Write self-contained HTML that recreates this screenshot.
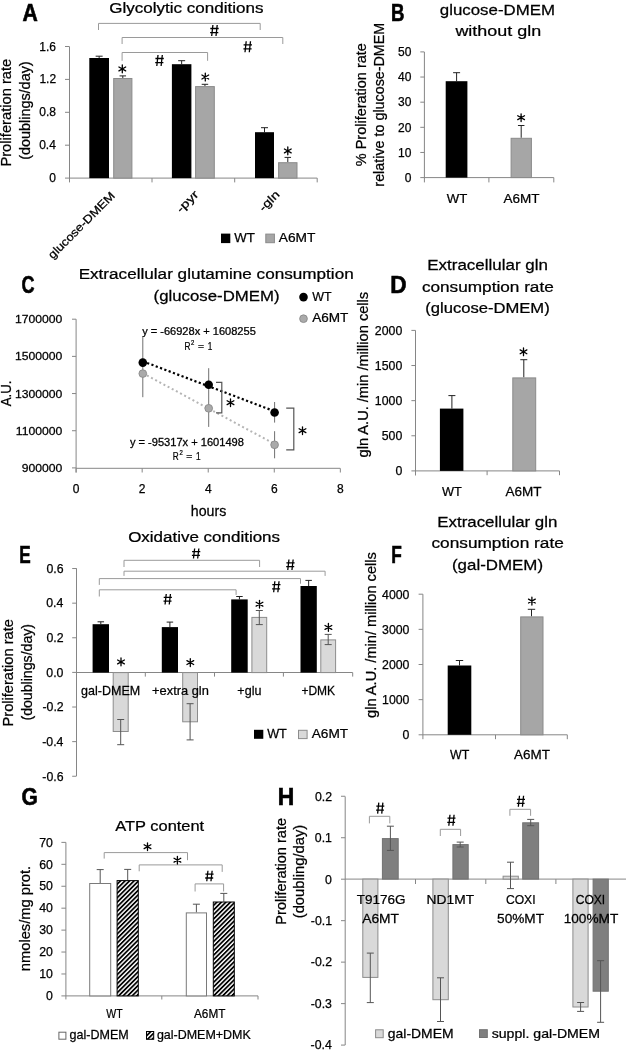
<!DOCTYPE html>
<html><head><meta charset="utf-8"><style>
html,body{margin:0;padding:0;background:#fff;width:626px;height:1050px;overflow:hidden}
svg{display:block;will-change:transform;filter:blur(0.35px)}
text{font-family:"Liberation Sans", sans-serif;stroke:#000;stroke-width:0.25px}
</style></head><body>
<svg width="626" height="1050" viewBox="0 0 626 1050" shape-rendering="auto">
<rect width="626" height="1050" fill="#fff"/>
<text x="0" y="0" font-size="23.2" font-weight="bold" transform="translate(22.47 20.70) scale(0.9135 1)" fill="#000" style="stroke-width:0.6px">A</text>
<text x="0" y="0" font-size="14.629999999999999" font-weight="normal" transform="translate(109.15 13.00) scale(1.1652 1)" fill="#000" >Glycolytic conditions</text>
<line x1="69.5" y1="46.7" x2="69.5" y2="182.4" stroke="#868686" stroke-width="1" />
<line x1="65" y1="46.5" x2="69.5" y2="46.5" stroke="#868686" stroke-width="1" />
<text x="0" y="0" font-size="12" font-weight="normal" transform="translate(39.30 50.50) scale(1.0000 1)" fill="#000">1.6</text>
<line x1="65" y1="79.39999999999999" x2="69.5" y2="79.39999999999999" stroke="#868686" stroke-width="1" />
<text x="0" y="0" font-size="12" font-weight="normal" transform="translate(39.42 83.40) scale(1.0000 1)" fill="#000">1.2</text>
<line x1="65" y1="112.3" x2="69.5" y2="112.3" stroke="#868686" stroke-width="1" />
<text x="0" y="0" font-size="12" font-weight="normal" transform="translate(39.30 116.30) scale(1.0000 1)" fill="#000">0.8</text>
<line x1="65" y1="145.2" x2="69.5" y2="145.2" stroke="#868686" stroke-width="1" />
<text x="0" y="0" font-size="12" font-weight="normal" transform="translate(39.18 149.20) scale(1.0000 1)" fill="#000">0.4</text>
<line x1="65" y1="178.1" x2="69.5" y2="178.1" stroke="#868686" stroke-width="1" />
<text x="0" y="0" font-size="12" font-weight="normal" transform="translate(49.26 182.10) scale(1.0000 1)" fill="#000">0</text>
<line x1="69.5" y1="178.1" x2="317.2" y2="178.1" stroke="#868686" stroke-width="1" />
<line x1="152" y1="178.1" x2="152" y2="182.4" stroke="#868686" stroke-width="1" />
<line x1="234.7" y1="178.1" x2="234.7" y2="182.4" stroke="#868686" stroke-width="1" />
<line x1="317.2" y1="178.1" x2="317.2" y2="182.4" stroke="#868686" stroke-width="1" />
<text x="0" y="0" font-size="14.629999999999999" font-weight="normal" transform="translate(10.90 166.58) rotate(-90) scale(1.0049 1)" fill="#000" >Proliferation rate</text>
<text x="0" y="0" font-size="14.629999999999999" font-weight="normal" transform="translate(30.10 159.86) rotate(-90) scale(0.9853 1)" fill="#000" >(doublings/day)</text>
<line x1="99.15" y1="58" x2="99.15" y2="56.2" stroke="#222" stroke-width="1" />
<line x1="95.65" y1="56.2" x2="102.65" y2="56.2" stroke="#222" stroke-width="1" />
<rect x="89.3" y="58" width="19.700000000000003" height="120.1" fill="#000" stroke="none" stroke-width="1" />
<line x1="181.65" y1="64.2" x2="181.65" y2="60.7" stroke="#222" stroke-width="1" />
<line x1="178.15" y1="60.7" x2="185.15" y2="60.7" stroke="#222" stroke-width="1" />
<rect x="171.9" y="64.2" width="19.5" height="113.89999999999999" fill="#000" stroke="none" stroke-width="1" />
<line x1="264.5" y1="132.2" x2="264.5" y2="127.7" stroke="#222" stroke-width="1" />
<line x1="261.0" y1="127.7" x2="268.0" y2="127.7" stroke="#222" stroke-width="1" />
<rect x="255" y="132.2" width="19" height="45.900000000000006" fill="#000" stroke="none" stroke-width="1" />
<line x1="122.80000000000001" y1="78" x2="122.80000000000001" y2="75.9" stroke="#222" stroke-width="1" />
<line x1="119.55000000000001" y1="75.9" x2="126.05000000000001" y2="75.9" stroke="#222" stroke-width="1" />
<rect x="113.7" y="78.5" width="18.200000000000003" height="99.6" fill="#a6a6a6" stroke="#8a8a8a" stroke-width="1" />
<line x1="204.95" y1="86.1" x2="204.95" y2="84.3" stroke="#222" stroke-width="1" />
<line x1="201.7" y1="84.3" x2="208.2" y2="84.3" stroke="#222" stroke-width="1" />
<rect x="195.6" y="86.6" width="18.700000000000017" height="91.5" fill="#a6a6a6" stroke="#8a8a8a" stroke-width="1" />
<line x1="287.8" y1="162.2" x2="287.8" y2="157.4" stroke="#222" stroke-width="1" />
<line x1="284.55" y1="157.4" x2="291.05" y2="157.4" stroke="#222" stroke-width="1" />
<rect x="278.6" y="162.7" width="18.399999999999977" height="15.400000000000006" fill="#a6a6a6" stroke="#8a8a8a" stroke-width="1" />
<path d="M122.30 72.80L122.30 65.00M118.92 70.85L125.68 66.95M125.68 70.85L118.92 66.95" stroke="#000" stroke-width="1.3" stroke-linecap="round"/>
<path d="M205.30 80.90L205.30 73.10M201.92 78.95L208.68 75.05M208.68 78.95L201.92 75.05" stroke="#000" stroke-width="1.3" stroke-linecap="round"/>
<path d="M287.80 154.80L287.80 147.00M284.42 152.85L291.18 148.95M291.18 152.85L284.42 148.95" stroke="#000" stroke-width="1.3" stroke-linecap="round"/>
<path d="M98.5 30L98.5 23.4L260.2 23.4L260.2 30" fill="none" stroke="#9a9a9a" stroke-width="1"/>
<path d="M122.1 44L122.1 37.5L282.8 37.5L282.8 44" fill="none" stroke="#9a9a9a" stroke-width="1"/>
<path d="M122.1 60.8L122.1 52.5L207.6 52.5L207.6 60.8" fill="none" stroke="#9a9a9a" stroke-width="1"/>
<path d="M212.90 25.00L211.70 36.00M217.20 25.00L216.00 36.00M210.30 28.50L218.70 28.50M210.10 32.60L218.30 32.60" stroke="#000" stroke-width="1.3" fill="none"/>
<path d="M246.20 41.30L245.00 52.30M250.50 41.30L249.30 52.30M243.60 44.80L252.00 44.80M243.40 48.90L251.60 48.90" stroke="#000" stroke-width="1.3" fill="none"/>
<path d="M158.00 55.00L156.80 66.00M162.30 55.00L161.10 66.00M155.40 58.50L163.80 58.50M155.20 62.60L163.40 62.60" stroke="#000" stroke-width="1.3" fill="none"/>
<text x="115.7" y="196.5" font-size="11.5" text-anchor="end" font-weight="normal" textLength="89" lengthAdjust="spacingAndGlyphs" transform="rotate(-45 115.7 196.5)" fill="#000">glucose-DMEM</text>
<text x="199.3" y="195.2" font-size="11.5" text-anchor="end" font-weight="normal" textLength="26" lengthAdjust="spacingAndGlyphs" transform="rotate(-45 199.3 195.2)" fill="#000">-pyr</text>
<text x="280.4" y="195.2" font-size="11.5" text-anchor="end" font-weight="normal" textLength="24" lengthAdjust="spacingAndGlyphs" transform="rotate(-45 280.4 195.2)" fill="#000">-gln</text>
<rect x="221" y="233.6" width="9.3" height="9.5" fill="#000" stroke="none" stroke-width="1" />
<text x="0" y="0" font-size="13.584999999999999" font-weight="normal" transform="translate(234.13 241.90) scale(0.9767 1)" fill="#000" >WT</text>
<rect x="265.8" y="234.1" width="8.6" height="8.6" fill="#a6a6a6" stroke="#8a8a8a" stroke-width="1" />
<text x="0" y="0" font-size="13.584999999999999" font-weight="normal" transform="translate(278.80 241.90) scale(1.0130 1)" fill="#000" >A6MT</text>
<text x="0" y="0" font-size="23.2" font-weight="bold" transform="translate(391.09 20.70) scale(0.8055 1)" fill="#000" style="stroke-width:0.6px">B</text>
<text x="0" y="0" font-size="15.1525" font-weight="normal" transform="translate(439.83 14.80) scale(1.1134 1)" fill="#000" >glucose-DMEM</text>
<text x="0" y="0" font-size="15.1525" font-weight="normal" transform="translate(455.40 36.10) scale(1.1841 1)" fill="#000" >without gln</text>
<line x1="424.4" y1="52" x2="424.4" y2="182.4" stroke="#868686" stroke-width="1" />
<line x1="420.3" y1="51.900000000000006" x2="424.4" y2="51.900000000000006" stroke="#868686" stroke-width="1" />
<text x="0" y="0" font-size="12" font-weight="normal" transform="translate(398.10 56.10) scale(1.0000 1)" fill="#000">50</text>
<line x1="420.3" y1="77.04" x2="424.4" y2="77.04" stroke="#868686" stroke-width="1" />
<text x="0" y="0" font-size="12" font-weight="normal" transform="translate(398.10 81.24) scale(1.0000 1)" fill="#000">40</text>
<line x1="420.3" y1="102.18" x2="424.4" y2="102.18" stroke="#868686" stroke-width="1" />
<text x="0" y="0" font-size="12" font-weight="normal" transform="translate(398.10 106.38) scale(1.0000 1)" fill="#000">30</text>
<line x1="420.3" y1="127.32" x2="424.4" y2="127.32" stroke="#868686" stroke-width="1" />
<text x="0" y="0" font-size="12" font-weight="normal" transform="translate(398.10 131.52) scale(1.0000 1)" fill="#000">20</text>
<line x1="420.3" y1="152.46" x2="424.4" y2="152.46" stroke="#868686" stroke-width="1" />
<text x="0" y="0" font-size="12" font-weight="normal" transform="translate(398.10 156.66) scale(1.0000 1)" fill="#000">10</text>
<line x1="420.3" y1="177.6" x2="424.4" y2="177.6" stroke="#868686" stroke-width="1" />
<text x="0" y="0" font-size="12" font-weight="normal" transform="translate(404.76 181.80) scale(1.0000 1)" fill="#000">0</text>
<line x1="424.4" y1="177.6" x2="553.8" y2="177.6" stroke="#868686" stroke-width="1" />
<line x1="488.9" y1="177.6" x2="488.9" y2="182.4" stroke="#868686" stroke-width="1" />
<line x1="553.8" y1="177.6" x2="553.8" y2="182.4" stroke="#868686" stroke-width="1" />
<text x="0" y="0" font-size="14.421" font-weight="normal" transform="translate(365.60 166.21) rotate(-90) scale(1.0050 1)" fill="#000" >% Proliferation rate</text>
<text x="0" y="0" font-size="14.421" font-weight="normal" transform="translate(384.10 186.63) rotate(-90) scale(0.9941 1)" fill="#000" >relative to glucose-DMEM</text>
<line x1="456.6" y1="81.2" x2="456.6" y2="72.7" stroke="#222" stroke-width="1" />
<line x1="453.1" y1="72.7" x2="460.1" y2="72.7" stroke="#222" stroke-width="1" />
<rect x="445.7" y="81.2" width="21.7" height="96.39999999999999" fill="#000" stroke="none" stroke-width="1" />
<line x1="521.2" y1="137.8" x2="521.2" y2="125.5" stroke="#222" stroke-width="1" />
<line x1="517.95" y1="125.5" x2="524.45" y2="125.5" stroke="#222" stroke-width="1" />
<rect x="511.1" y="138.3" width="20.3" height="39.29999999999998" fill="#a6a6a6" stroke="#8a8a8a" stroke-width="1" />
<path d="M521.10 121.60L521.10 113.80M517.72 119.65L524.48 115.75M524.48 119.65L517.72 115.75" stroke="#000" stroke-width="1.3" stroke-linecap="round"/>
<text x="0" y="0" font-size="13.584999999999999" font-weight="normal" transform="translate(446.73 202.70) scale(0.9719 1)" fill="#000" >WT</text>
<text x="0" y="0" font-size="13.584999999999999" font-weight="normal" transform="translate(503.60 202.70) scale(0.9935 1)" fill="#000" >A6MT</text>
<text x="0" y="0" font-size="23.2" font-weight="bold" transform="translate(21.38 292.70) scale(0.7765 1)" fill="#000" style="stroke-width:0.6px">C</text>
<text x="0" y="0" font-size="14.629999999999999" font-weight="normal" transform="translate(78.63 278.80) scale(1.1713 1)" fill="#000" >Extracellular glutamine consumption</text>
<text x="0" y="0" font-size="14.629999999999999" font-weight="normal" transform="translate(153.59 300.60) scale(1.1485 1)" fill="#000" >(glucose-DMEM)</text>
<line x1="76.1" y1="319.2" x2="76.1" y2="472.5" stroke="#868686" stroke-width="1" />
<line x1="72" y1="319.2" x2="76.1" y2="319.2" stroke="#868686" stroke-width="1" />
<text x="0" y="0" font-size="11.5" font-weight="normal" transform="translate(14.91 323.20) scale(1.0600 1)" fill="#000">1700000</text>
<line x1="72" y1="356.375" x2="76.1" y2="356.375" stroke="#868686" stroke-width="1" />
<text x="0" y="0" font-size="11.5" font-weight="normal" transform="translate(14.91 360.38) scale(1.0600 1)" fill="#000">1500000</text>
<line x1="72" y1="393.54999999999995" x2="76.1" y2="393.54999999999995" stroke="#868686" stroke-width="1" />
<text x="0" y="0" font-size="11.5" font-weight="normal" transform="translate(14.91 397.55) scale(1.0600 1)" fill="#000">1300000</text>
<line x1="72" y1="430.72499999999997" x2="76.1" y2="430.72499999999997" stroke="#868686" stroke-width="1" />
<text x="0" y="0" font-size="11.5" font-weight="normal" transform="translate(15.76 434.72) scale(1.0600 1)" fill="#000">1100000</text>
<line x1="72" y1="467.9" x2="76.1" y2="467.9" stroke="#868686" stroke-width="1" />
<text x="0" y="0" font-size="11.5" font-weight="normal" transform="translate(21.67 471.90) scale(1.0600 1)" fill="#000">900000</text>
<line x1="76.1" y1="468.3" x2="340.2" y2="468.3" stroke="#868686" stroke-width="1" />
<line x1="76.1" y1="468.3" x2="76.1" y2="472.5" stroke="#868686" stroke-width="1" />
<text x="0" y="0" font-size="12" font-weight="normal" transform="translate(72.74 492.70) scale(1.0000 1)" fill="#000">0</text>
<line x1="142.16" y1="468.3" x2="142.16" y2="472.5" stroke="#868686" stroke-width="1" />
<text x="0" y="0" font-size="12" font-weight="normal" transform="translate(138.83 492.70) scale(1.0000 1)" fill="#000">2</text>
<line x1="208.22" y1="468.3" x2="208.22" y2="472.5" stroke="#868686" stroke-width="1" />
<text x="0" y="0" font-size="12" font-weight="normal" transform="translate(204.95 492.70) scale(1.0000 1)" fill="#000">4</text>
<line x1="274.28" y1="468.3" x2="274.28" y2="472.5" stroke="#868686" stroke-width="1" />
<text x="0" y="0" font-size="12" font-weight="normal" transform="translate(270.89 492.70) scale(1.0000 1)" fill="#000">6</text>
<line x1="340.34000000000003" y1="468.3" x2="340.34000000000003" y2="472.5" stroke="#868686" stroke-width="1" />
<text x="0" y="0" font-size="12" font-weight="normal" transform="translate(336.98 492.70) scale(1.0000 1)" fill="#000">8</text>
<text x="0" y="0" font-size="14.107499999999998" font-weight="normal" transform="translate(190.81 516.40) scale(1.0063 1)" fill="#000" >hours</text>
<text x="0" y="0" font-size="14.629999999999999" font-weight="normal" transform="translate(11.20 406.30) rotate(-90) scale(0.9089 1)" fill="#000" >A.U.</text>
<line x1="142.8" y1="361.3" x2="274.6" y2="411.3" stroke="#000" stroke-width="2.2" stroke-dasharray="2.2 2.4"/>
<line x1="142.8" y1="373.2" x2="274.6" y2="444.0" stroke="#b5b5b5" stroke-width="2" stroke-dasharray="2 2.7"/>
<line x1="142.8" y1="336.6" x2="142.8" y2="397.2" stroke="#707070" stroke-width="1" />
<line x1="208.7" y1="368.2" x2="208.7" y2="426.9" stroke="#707070" stroke-width="1" />
<line x1="274.6" y1="402" x2="274.6" y2="422.6" stroke="#707070" stroke-width="1" />
<line x1="274.6" y1="431.2" x2="274.6" y2="458.3" stroke="#707070" stroke-width="1" />
<circle cx="142.8" cy="362.6" r="4.3" fill="#000"/>
<circle cx="208.7" cy="384.8" r="4.3" fill="#000"/>
<circle cx="274.6" cy="412.5" r="4.3" fill="#000"/>
<circle cx="142.8" cy="373.6" r="3.85" fill="#aaaaaa" stroke="#8a8a8a" stroke-width="0.9"/>
<circle cx="208.7" cy="408.3" r="3.85" fill="#aaaaaa" stroke="#8a8a8a" stroke-width="0.9"/>
<circle cx="274.6" cy="444.8" r="3.85" fill="#aaaaaa" stroke="#8a8a8a" stroke-width="0.9"/>
<text x="0" y="0" font-size="10" font-weight="normal" transform="translate(142.14 335.00) scale(1.1064 1)" fill="#000" >y = -66928x + 1608255</text>
<text x="0" y="0" font-size="10.5" font-weight="normal" transform="translate(184.54 349.60) scale(0.7843 1)" fill="#000" >R</text>
<text x="0" y="0" font-size="6.3" font-weight="normal" transform="translate(191.10 345.30) scale(0.9419 1)" fill="#000" >2</text>
<text x="0" y="0" font-size="9.5" font-weight="normal" transform="translate(197.98 349.00) scale(1.0852 1)" fill="#000" >=</text>
<text x="0" y="0" font-size="10.5" font-weight="normal" transform="translate(207.68 349.60) scale(0.7882 1)" fill="#000" >1</text>
<text x="0" y="0" font-size="10.5" font-weight="normal" transform="translate(172.84 459.60) scale(0.7843 1)" fill="#000" >R</text>
<text x="0" y="0" font-size="6.3" font-weight="normal" transform="translate(179.40 455.30) scale(0.9419 1)" fill="#000" >2</text>
<text x="0" y="0" font-size="9.5" font-weight="normal" transform="translate(186.28 459.00) scale(1.0852 1)" fill="#000" >=</text>
<text x="0" y="0" font-size="10.5" font-weight="normal" transform="translate(195.98 459.60) scale(0.7882 1)" fill="#000" >1</text>
<text x="0" y="0" font-size="10" font-weight="normal" transform="translate(129.94 446.00) scale(1.1094 1)" fill="#000" >y = -95317x + 1601498</text>
<path d="M216 382.3L221.8 382.3L221.8 412.8L216 412.8" fill="none" stroke="#555" stroke-width="1.2"/>
<path d="M230.50 406.60L230.50 398.80M227.12 404.65L233.88 400.75M233.88 404.65L227.12 400.75" stroke="#000" stroke-width="1.3" stroke-linecap="round"/>
<path d="M286.2 408.2L293.8 408.2L293.8 449.9L286.2 449.9" fill="none" stroke="#555" stroke-width="1.2"/>
<path d="M302.50 434.60L302.50 426.80M299.12 432.65L305.88 428.75M305.88 432.65L299.12 428.75" stroke="#000" stroke-width="1.3" stroke-linecap="round"/>
<circle cx="303.5" cy="297.1" r="4.3" fill="#000"/>
<text x="0" y="0" font-size="13.584999999999999" font-weight="normal" transform="translate(312.14 300.80) scale(0.9189 1)" fill="#000" >WT</text>
<circle cx="303.5" cy="318.7" r="3.85" fill="#aaaaaa" stroke="#8a8a8a" stroke-width="0.9"/>
<text x="0" y="0" font-size="13.584999999999999" font-weight="normal" transform="translate(312.20 322.40) scale(0.9991 1)" fill="#000" >A6MT</text>
<text x="0" y="0" font-size="23.2" font-weight="bold" transform="translate(390.33 292.70) scale(0.9742 1)" fill="#000" style="stroke-width:0.6px">D</text>
<text x="0" y="0" font-size="14.629999999999999" font-weight="normal" transform="translate(427.24 270.00) scale(1.1601 1)" fill="#000" >Extracellular gln</text>
<text x="0" y="0" font-size="14.629999999999999" font-weight="normal" transform="translate(421.91 291.50) scale(1.1760 1)" fill="#000" >consumption rate</text>
<text x="0" y="0" font-size="14.629999999999999" font-weight="normal" transform="translate(425.20 313.10) scale(1.1355 1)" fill="#000" >(glucose-DMEM)</text>
<line x1="415.5" y1="330.4" x2="415.5" y2="475.5" stroke="#868686" stroke-width="1" />
<line x1="411.4" y1="330.4" x2="415.5" y2="330.4" stroke="#868686" stroke-width="1" />
<text x="0" y="0" font-size="12.3" font-weight="normal" transform="translate(374.86 334.70) scale(1.0000 1)" fill="#000">2000</text>
<line x1="411.4" y1="365.525" x2="415.5" y2="365.525" stroke="#868686" stroke-width="1" />
<text x="0" y="0" font-size="12.3" font-weight="normal" transform="translate(374.86 369.82) scale(1.0000 1)" fill="#000">1500</text>
<line x1="411.4" y1="400.65" x2="415.5" y2="400.65" stroke="#868686" stroke-width="1" />
<text x="0" y="0" font-size="12.3" font-weight="normal" transform="translate(374.86 404.95) scale(1.0000 1)" fill="#000">1000</text>
<line x1="411.4" y1="435.775" x2="415.5" y2="435.775" stroke="#868686" stroke-width="1" />
<text x="0" y="0" font-size="12.3" font-weight="normal" transform="translate(381.75 440.07) scale(1.0000 1)" fill="#000">500</text>
<line x1="411.4" y1="470.9" x2="415.5" y2="470.9" stroke="#868686" stroke-width="1" />
<text x="0" y="0" font-size="12.3" font-weight="normal" transform="translate(395.40 475.20) scale(1.0000 1)" fill="#000">0</text>
<line x1="415.5" y1="470.9" x2="559.5" y2="470.9" stroke="#868686" stroke-width="1" />
<line x1="487.1" y1="470.9" x2="487.1" y2="475.2" stroke="#868686" stroke-width="1" />
<line x1="559.5" y1="470.9" x2="559.5" y2="475.2" stroke="#868686" stroke-width="1" />
<text x="0" y="0" font-size="14.421" font-weight="normal" transform="translate(367.60 457.38) rotate(-90) scale(1.0131 1)" fill="#000" >gln A.U. /min /million cells</text>
<line x1="451.9" y1="408.6" x2="451.9" y2="395.6" stroke="#222" stroke-width="1" />
<line x1="448.4" y1="395.6" x2="455.4" y2="395.6" stroke="#222" stroke-width="1" />
<rect x="439.9" y="408.6" width="23.5" height="62.299999999999955" fill="#000" stroke="none" stroke-width="1" />
<line x1="523.8" y1="377.4" x2="523.8" y2="359.7" stroke="#222" stroke-width="1" />
<line x1="520.3" y1="359.7" x2="527.3" y2="359.7" stroke="#222" stroke-width="1" />
<rect x="512.8" y="377.9" width="22.9" height="93.0" fill="#a6a6a6" stroke="#8a8a8a" stroke-width="1" />
<path d="M523.50 355.70L523.50 347.90M520.12 353.75L526.88 349.85M526.88 353.75L520.12 349.85" stroke="#000" stroke-width="1.3" stroke-linecap="round"/>
<text x="0" y="0" font-size="13.584999999999999" font-weight="normal" transform="translate(441.94 495.60) scale(0.9382 1)" fill="#000" >WT</text>
<text x="0" y="0" font-size="13.584999999999999" font-weight="normal" transform="translate(505.50 495.60) scale(0.9963 1)" fill="#000" >A6MT</text>
<text x="0" y="0" font-size="23.2" font-weight="bold" transform="translate(19.28 563.40) scale(0.7400 1)" fill="#000" style="stroke-width:0.6px">E</text>
<text x="0" y="0" font-size="14.9435" font-weight="normal" transform="translate(128.14 541.50) scale(1.1369 1)" fill="#000" >Oxidative conditions</text>
<line x1="76.5" y1="568.3" x2="76.5" y2="776" stroke="#868686" stroke-width="1" />
<line x1="72.2" y1="568.54" x2="76.5" y2="568.54" stroke="#868686" stroke-width="1" />
<text x="0" y="0" font-size="12.3" font-weight="normal" transform="translate(46.39 572.84) scale(1.0000 1)" fill="#000">0.6</text>
<line x1="72.2" y1="603.16" x2="76.5" y2="603.16" stroke="#868686" stroke-width="1" />
<text x="0" y="0" font-size="12.3" font-weight="normal" transform="translate(46.27 607.46) scale(1.0000 1)" fill="#000">0.4</text>
<line x1="72.2" y1="637.78" x2="76.5" y2="637.78" stroke="#868686" stroke-width="1" />
<text x="0" y="0" font-size="12.3" font-weight="normal" transform="translate(46.52 642.08) scale(1.0000 1)" fill="#000">0.2</text>
<line x1="72.2" y1="672.4" x2="76.5" y2="672.4" stroke="#868686" stroke-width="1" />
<text x="0" y="0" font-size="12.3" font-weight="normal" transform="translate(46.33 676.70) scale(1.0000 1)" fill="#000">0.0</text>
<line x1="72.2" y1="707.02" x2="76.5" y2="707.02" stroke="#868686" stroke-width="1" />
<text x="0" y="0" font-size="12.3" font-weight="normal" transform="translate(42.46 711.32) scale(1.0000 1)" fill="#000">-0.2</text>
<line x1="72.2" y1="741.64" x2="76.5" y2="741.64" stroke="#868686" stroke-width="1" />
<text x="0" y="0" font-size="12.3" font-weight="normal" transform="translate(42.21 745.94) scale(1.0000 1)" fill="#000">-0.4</text>
<line x1="72.2" y1="776.26" x2="76.5" y2="776.26" stroke="#868686" stroke-width="1" />
<text x="0" y="0" font-size="12.3" font-weight="normal" transform="translate(42.34 780.56) scale(1.0000 1)" fill="#000">-0.6</text>
<line x1="76.5" y1="672.5" x2="352.7" y2="672.5" stroke="#868686" stroke-width="1" />
<line x1="145.3" y1="672.6" x2="145.3" y2="676.6" stroke="#868686" stroke-width="1" />
<line x1="214.5" y1="672.6" x2="214.5" y2="676.6" stroke="#868686" stroke-width="1" />
<line x1="283.4" y1="672.6" x2="283.4" y2="676.6" stroke="#868686" stroke-width="1" />
<line x1="352.7" y1="672.6" x2="352.7" y2="676.6" stroke="#868686" stroke-width="1" />
<text x="0" y="0" font-size="14.629999999999999" font-weight="normal" transform="translate(13.10 726.47) rotate(-90) scale(1.0002 1)" fill="#000" >Proliferation rate</text>
<text x="0" y="0" font-size="14.629999999999999" font-weight="normal" transform="translate(31.60 720.55) rotate(-90) scale(0.9670 1)" fill="#000" >(doublings/day)</text>
<line x1="100.8" y1="624.2" x2="100.8" y2="621.8" stroke="#222" stroke-width="1" />
<line x1="97.55" y1="621.8" x2="104.05" y2="621.8" stroke="#222" stroke-width="1" />
<rect x="92.6" y="624.2" width="16.400000000000006" height="48.39999999999998" fill="#000" stroke="none" stroke-width="1" />
<line x1="169.9" y1="627.1" x2="169.9" y2="622.1" stroke="#222" stroke-width="1" />
<line x1="166.65" y1="622.1" x2="173.15" y2="622.1" stroke="#222" stroke-width="1" />
<rect x="161.8" y="627.1" width="16.19999999999999" height="45.5" fill="#000" stroke="none" stroke-width="1" />
<line x1="239.45" y1="599.4" x2="239.45" y2="596.5" stroke="#222" stroke-width="1" />
<line x1="236.2" y1="596.5" x2="242.7" y2="596.5" stroke="#222" stroke-width="1" />
<rect x="231.2" y="599.4" width="16.5" height="73.20000000000005" fill="#000" stroke="none" stroke-width="1" />
<line x1="308.65" y1="586" x2="308.65" y2="580.4" stroke="#222" stroke-width="1" />
<line x1="305.4" y1="580.4" x2="311.9" y2="580.4" stroke="#222" stroke-width="1" />
<rect x="300.5" y="586" width="16.30000000000001" height="86.60000000000002" fill="#000" stroke="none" stroke-width="1" />
<rect x="113.2" y="672.6" width="14.999999999999986" height="58.89999999999998" fill="#d9d9d9" stroke="#8c8c8c" stroke-width="1" />
<line x1="120.69999999999999" y1="719.5" x2="120.69999999999999" y2="744.7" stroke="#555" stroke-width="1" />
<line x1="117.19999999999999" y1="719.5" x2="124.19999999999999" y2="719.5" stroke="#555" stroke-width="1" />
<line x1="117.19999999999999" y1="744.7" x2="124.19999999999999" y2="744.7" stroke="#555" stroke-width="1" />
<rect x="182.7" y="672.6" width="14.800000000000011" height="49.19999999999993" fill="#d9d9d9" stroke="#8c8c8c" stroke-width="1" />
<line x1="190.1" y1="703.7" x2="190.1" y2="739.9" stroke="#555" stroke-width="1" />
<line x1="186.6" y1="703.7" x2="193.6" y2="703.7" stroke="#555" stroke-width="1" />
<line x1="186.6" y1="739.9" x2="193.6" y2="739.9" stroke="#555" stroke-width="1" />
<rect x="251.9" y="617.4" width="14.799999999999983" height="55.200000000000045" fill="#d9d9d9" stroke="#8c8c8c" stroke-width="1" />
<line x1="259.3" y1="610.5" x2="259.3" y2="624.6" stroke="#555" stroke-width="1" />
<line x1="255.8" y1="610.5" x2="262.8" y2="610.5" stroke="#555" stroke-width="1" />
<line x1="255.8" y1="624.6" x2="262.8" y2="624.6" stroke="#555" stroke-width="1" />
<rect x="320.8" y="639.9" width="14.800000000000011" height="32.700000000000045" fill="#d9d9d9" stroke="#8c8c8c" stroke-width="1" />
<line x1="328.20000000000005" y1="634.4" x2="328.20000000000005" y2="644.6" stroke="#555" stroke-width="1" />
<line x1="324.70000000000005" y1="634.4" x2="331.70000000000005" y2="634.4" stroke="#555" stroke-width="1" />
<line x1="324.70000000000005" y1="644.6" x2="331.70000000000005" y2="644.6" stroke="#555" stroke-width="1" />
<path d="M121.00 665.80L121.00 658.00M117.62 663.85L124.38 659.95M124.38 663.85L117.62 659.95" stroke="#000" stroke-width="1.3" stroke-linecap="round"/>
<path d="M190.30 666.50L190.30 658.70M186.92 664.55L193.68 660.65M193.68 664.55L186.92 660.65" stroke="#000" stroke-width="1.3" stroke-linecap="round"/>
<path d="M259.50 608.10L259.50 600.30M256.12 606.15L262.88 602.25M262.88 606.15L256.12 602.25" stroke="#000" stroke-width="1.3" stroke-linecap="round"/>
<path d="M328.40 631.30L328.40 623.50M325.02 629.35L331.78 625.45M331.78 629.35L325.02 625.45" stroke="#000" stroke-width="1.3" stroke-linecap="round"/>
<path d="M124 567L124 560.3L259.6 560.3L259.6 567" fill="none" stroke="#9a9a9a" stroke-width="1"/>
<path d="M194.64 548.50L193.47 558.50M198.84 548.50L197.66 558.50M192.10 551.68L200.30 551.68M191.90 555.41L199.90 555.41" stroke="#000" stroke-width="1.3" fill="none"/>
<path d="M124 575.9L124 571.2L325.1 571.2L325.1 575.9" fill="none" stroke="#9a9a9a" stroke-width="1"/>
<path d="M288.94 559.45L287.77 569.95M293.14 559.45L291.96 569.95M286.40 562.79L294.60 562.79M286.20 566.70L294.20 566.70" stroke="#000" stroke-width="1.3" fill="none"/>
<path d="M99.3 584.9L99.3 578.6L300.5 578.6L300.5 583.7" fill="none" stroke="#9a9a9a" stroke-width="1"/>
<path d="M274.84 581.20L273.67 592.20M279.04 581.20L277.86 592.20M272.30 584.70L280.50 584.70M272.10 588.80L280.10 588.80" stroke="#000" stroke-width="1.3" fill="none"/>
<path d="M99.3 596.5L99.3 589.8L236.1 589.8L236.1 594.9" fill="none" stroke="#9a9a9a" stroke-width="1"/>
<path d="M166.24 593.95L165.07 604.45M170.44 593.95L169.26 604.45M163.70 597.29L171.90 597.29M163.50 601.20L171.50 601.20" stroke="#000" stroke-width="1.3" fill="none"/>
<text x="0" y="0" font-size="13.584999999999999" font-weight="normal" transform="translate(81.10 694.80) scale(0.9233 1)" fill="#000" >gal-DMEM</text>
<text x="0" y="0" font-size="13.584999999999999" font-weight="normal" transform="translate(152.06 694.80) scale(0.9473 1)" fill="#000" >+extra gln</text>
<text x="0" y="0" font-size="13.584999999999999" font-weight="normal" transform="translate(237.37 694.80) scale(0.9242 1)" fill="#000" >+glu</text>
<text x="0" y="0" font-size="13.584999999999999" font-weight="normal" transform="translate(301.40 694.80) scale(0.8849 1)" fill="#000" >+DMK</text>
<rect x="254" y="729.8" width="9.3" height="9" fill="#000" stroke="none" stroke-width="1" />
<text x="0" y="0" font-size="13.584999999999999" font-weight="normal" transform="translate(267.14 738.20) scale(0.9334 1)" fill="#000" >WT</text>
<rect x="298.5" y="730.3" width="8.6" height="8.3" fill="#d9d9d9" stroke="#8c8c8c" stroke-width="1" />
<text x="0" y="0" font-size="13.584999999999999" font-weight="normal" transform="translate(311.70 738.20) scale(1.0074 1)" fill="#000" >A6MT</text>
<text x="0" y="0" font-size="23.2" font-weight="bold" transform="translate(391.18 563.20) scale(0.7437 1)" fill="#000" style="stroke-width:0.6px">F</text>
<text x="0" y="0" font-size="14.629999999999999" font-weight="normal" transform="translate(437.25 526.90) scale(1.1552 1)" fill="#000" >Extracellular gln</text>
<text x="0" y="0" font-size="14.629999999999999" font-weight="normal" transform="translate(431.41 547.90) scale(1.1805 1)" fill="#000" >consumption rate</text>
<text x="0" y="0" font-size="14.629999999999999" font-weight="normal" transform="translate(451.99 569.50) scale(1.1554 1)" fill="#000" >(gal-DMEM)</text>
<line x1="422.9" y1="594.2" x2="422.9" y2="739.2" stroke="#868686" stroke-width="1" />
<line x1="418.6" y1="594.1999999999999" x2="422.9" y2="594.1999999999999" stroke="#868686" stroke-width="1" />
<text x="0" y="0" font-size="12.3" font-weight="normal" transform="translate(382.06 598.50) scale(1.0000 1)" fill="#000">4000</text>
<line x1="418.6" y1="629.3499999999999" x2="422.9" y2="629.3499999999999" stroke="#868686" stroke-width="1" />
<text x="0" y="0" font-size="12.3" font-weight="normal" transform="translate(382.06 633.65) scale(1.0000 1)" fill="#000">3000</text>
<line x1="418.6" y1="664.5" x2="422.9" y2="664.5" stroke="#868686" stroke-width="1" />
<text x="0" y="0" font-size="12.3" font-weight="normal" transform="translate(382.06 668.80) scale(1.0000 1)" fill="#000">2000</text>
<line x1="418.6" y1="699.65" x2="422.9" y2="699.65" stroke="#868686" stroke-width="1" />
<text x="0" y="0" font-size="12.3" font-weight="normal" transform="translate(382.06 703.95) scale(1.0000 1)" fill="#000">1000</text>
<line x1="418.6" y1="734.8" x2="422.9" y2="734.8" stroke="#868686" stroke-width="1" />
<text x="0" y="0" font-size="12.3" font-weight="normal" transform="translate(402.60 739.10) scale(1.0000 1)" fill="#000">0</text>
<line x1="422.9" y1="734.8" x2="567.3" y2="734.8" stroke="#868686" stroke-width="1" />
<line x1="495.5" y1="734.8" x2="495.5" y2="739.2" stroke="#868686" stroke-width="1" />
<line x1="567.3" y1="734.8" x2="567.3" y2="739.2" stroke="#868686" stroke-width="1" />
<text x="0" y="0" font-size="14.421" font-weight="normal" transform="translate(375.90 717.89) rotate(-90) scale(1.0143 1)" fill="#000" >gln A.U. /min/ million cells</text>
<line x1="459.5" y1="665.5" x2="459.5" y2="660.5" stroke="#222" stroke-width="1" />
<line x1="455.8" y1="660.5" x2="463.2" y2="660.5" stroke="#222" stroke-width="1" />
<rect x="447.7" y="665.5" width="23.6" height="69.29999999999995" fill="#000" stroke="none" stroke-width="1" />
<line x1="531.5" y1="616.4" x2="531.5" y2="609.3" stroke="#222" stroke-width="1" />
<line x1="527.8" y1="609.3" x2="535.2" y2="609.3" stroke="#222" stroke-width="1" />
<rect x="520.7" y="616.9" width="22.3" height="117.89999999999998" fill="#a6a6a6" stroke="#8a8a8a" stroke-width="1" />
<path d="M531.90 605.00L531.90 597.20M528.52 603.05L535.28 599.15M535.28 603.05L528.52 599.15" stroke="#000" stroke-width="1.3" stroke-linecap="round"/>
<text x="0" y="0" font-size="13.584999999999999" font-weight="normal" transform="translate(450.04 759.10) scale(0.9141 1)" fill="#000" >WT</text>
<text x="0" y="0" font-size="13.584999999999999" font-weight="normal" transform="translate(514.00 759.10) scale(0.9908 1)" fill="#000" >A6MT</text>
<text x="0" y="0" font-size="23.2" font-weight="bold" transform="translate(21.46 804.70) scale(0.9068 1)" fill="#000" style="stroke-width:0.6px">G</text>
<text x="0" y="0" font-size="14.629999999999999" font-weight="normal" transform="translate(115.30 830.60) scale(1.1242 1)" fill="#000" >ATP content</text>
<line x1="65.9" y1="842.4" x2="65.9" y2="999.4" stroke="#868686" stroke-width="1" />
<line x1="61.4" y1="842.39" x2="65.9" y2="842.39" stroke="#868686" stroke-width="1" />
<text x="0" y="0" font-size="12.3" font-weight="normal" transform="translate(39.28 846.59) scale(1.0000 1)" fill="#000">70</text>
<line x1="61.4" y1="864.3199999999999" x2="65.9" y2="864.3199999999999" stroke="#868686" stroke-width="1" />
<text x="0" y="0" font-size="12.3" font-weight="normal" transform="translate(39.28 868.52) scale(1.0000 1)" fill="#000">60</text>
<line x1="61.4" y1="886.25" x2="65.9" y2="886.25" stroke="#868686" stroke-width="1" />
<text x="0" y="0" font-size="12.3" font-weight="normal" transform="translate(39.28 890.45) scale(1.0000 1)" fill="#000">50</text>
<line x1="61.4" y1="908.18" x2="65.9" y2="908.18" stroke="#868686" stroke-width="1" />
<text x="0" y="0" font-size="12.3" font-weight="normal" transform="translate(39.28 912.38) scale(1.0000 1)" fill="#000">40</text>
<line x1="61.4" y1="930.11" x2="65.9" y2="930.11" stroke="#868686" stroke-width="1" />
<text x="0" y="0" font-size="12.3" font-weight="normal" transform="translate(39.28 934.31) scale(1.0000 1)" fill="#000">30</text>
<line x1="61.4" y1="952.04" x2="65.9" y2="952.04" stroke="#868686" stroke-width="1" />
<text x="0" y="0" font-size="12.3" font-weight="normal" transform="translate(39.28 956.24) scale(1.0000 1)" fill="#000">20</text>
<line x1="61.4" y1="973.97" x2="65.9" y2="973.97" stroke="#868686" stroke-width="1" />
<text x="0" y="0" font-size="12.3" font-weight="normal" transform="translate(39.28 978.17) scale(1.0000 1)" fill="#000">10</text>
<line x1="61.4" y1="995.9" x2="65.9" y2="995.9" stroke="#868686" stroke-width="1" />
<text x="0" y="0" font-size="12.3" font-weight="normal" transform="translate(46.10 1000.10) scale(1.0000 1)" fill="#000">0</text>
<line x1="65.9" y1="995.9" x2="258" y2="995.9" stroke="#868686" stroke-width="1" />
<line x1="161.8" y1="995.9" x2="161.8" y2="999.5" stroke="#868686" stroke-width="1" />
<line x1="258" y1="995.9" x2="258" y2="999.5" stroke="#868686" stroke-width="1" />
<text x="0" y="0" font-size="14.421" font-weight="normal" transform="translate(30.00 971.16) rotate(-90) scale(1.0189 1)" fill="#000" >nmoles/mg prot.</text>
<defs><pattern id="hatch" patternUnits="userSpaceOnUse" width="3.2" height="3.2" patternTransform="rotate(45)"><rect width="3.2" height="3.2" fill="#fff"/><rect width="1.75" height="3.2" fill="#000"/></pattern></defs>
<line x1="100.2" y1="883" x2="100.2" y2="869.6" stroke="#555" stroke-width="1" />
<line x1="96.7" y1="869.6" x2="103.7" y2="869.6" stroke="#555" stroke-width="1" />
<rect x="89.7" y="883.5" width="21.0" height="112.39999999999998" fill="#fff" stroke="#7a7a7a" stroke-width="1" />
<line x1="127.7" y1="880.1" x2="127.7" y2="869.4" stroke="#555" stroke-width="1" />
<line x1="124.2" y1="869.4" x2="131.2" y2="869.4" stroke="#555" stroke-width="1" />
<rect x="117.1" y="880.6" width="21.200000000000017" height="115.29999999999995" fill="url(#hatch)" stroke="#000" stroke-width="1" />
<line x1="196.4" y1="912.4" x2="196.4" y2="904.2" stroke="#555" stroke-width="1" />
<line x1="192.9" y1="904.2" x2="199.9" y2="904.2" stroke="#555" stroke-width="1" />
<rect x="186.3" y="912.9" width="20.19999999999999" height="83.0" fill="#fff" stroke="#7a7a7a" stroke-width="1" />
<line x1="223.8" y1="901.5" x2="223.8" y2="893.4" stroke="#555" stroke-width="1" />
<line x1="220.3" y1="893.4" x2="227.3" y2="893.4" stroke="#555" stroke-width="1" />
<rect x="213.3" y="902.0" width="21.0" height="93.89999999999998" fill="url(#hatch)" stroke="#000" stroke-width="1" />
<path d="M104.2 858.6L104.2 852.6L187.5 852.6L187.5 860.2" fill="none" stroke="#9a9a9a" stroke-width="1"/>
<path d="M147.50 850.60L147.50 842.80M144.12 848.65L150.88 844.75M150.88 848.65L144.12 844.75" stroke="#000" stroke-width="1.3" stroke-linecap="round"/>
<path d="M139.2 871.3L139.2 864.9L222.2 864.9L222.2 871.9" fill="none" stroke="#9a9a9a" stroke-width="1"/>
<path d="M177.40 864.10L177.40 856.30M174.02 862.15L180.78 858.25M180.78 862.15L174.02 858.25" stroke="#000" stroke-width="1.3" stroke-linecap="round"/>
<path d="M195.1 891.5L195.1 883.9L223.6 883.9L223.6 891.5" fill="none" stroke="#9a9a9a" stroke-width="1"/>
<path d="M207.94 870.75L206.77 881.25M212.14 870.75L210.96 881.25M205.40 874.09L213.60 874.09M205.20 878.00L213.20 878.00" stroke="#000" stroke-width="1.3" fill="none"/>
<text x="0" y="0" font-size="13.584999999999999" font-weight="normal" transform="translate(106.25 1017.70) scale(0.7794 1)" fill="#000" >WT</text>
<text x="0" y="0" font-size="13.584999999999999" font-weight="normal" transform="translate(194.00 1017.60) scale(0.8683 1)" fill="#000" >A6MT</text>
<rect x="58.9" y="1032.2" width="7" height="7" fill="#fff" stroke="#666" stroke-width="1" />
<text x="0" y="0" font-size="13.584999999999999" font-weight="normal" transform="translate(69.60 1038.90) scale(0.9233 1)" fill="#000" >gal-DMEM</text>
<rect x="146.5" y="1031.5" width="7.2" height="7.8" fill="url(#hatch)" stroke="#000" stroke-width="1" />
<text x="0" y="0" font-size="13.584999999999999" font-weight="normal" transform="translate(156.90 1039.10) scale(0.9188 1)" fill="#000" >gal-DMEM+DMK</text>
<text x="0" y="0" font-size="23.2" font-weight="bold" transform="translate(277.81 804.70) scale(0.9863 1)" fill="#000" style="stroke-width:0.6px">H</text>
<text x="0" y="0" font-size="14.629999999999999" font-weight="normal" transform="translate(285.60 924.66) rotate(-90) scale(0.9945 1)" fill="#000" >Proliferation rate</text>
<text x="0" y="0" font-size="14.629999999999999" font-weight="normal" transform="translate(304.40 918.29) rotate(-90) scale(1.0107 1)" fill="#000" >(doubling/day)</text>
<line x1="345.2" y1="796.5" x2="345.2" y2="1045" stroke="#868686" stroke-width="1" />
<line x1="341" y1="796.26" x2="345.2" y2="796.26" stroke="#868686" stroke-width="1" />
<text x="0" y="0" font-size="12.3" font-weight="normal" transform="translate(314.92 800.56) scale(1.0000 1)" fill="#000">0.2</text>
<line x1="341" y1="837.73" x2="345.2" y2="837.73" stroke="#868686" stroke-width="1" />
<text x="0" y="0" font-size="12.3" font-weight="normal" transform="translate(314.86 842.03) scale(1.0000 1)" fill="#000">0.1</text>
<line x1="341" y1="879.2" x2="345.2" y2="879.2" stroke="#868686" stroke-width="1" />
<text x="0" y="0" font-size="12.3" font-weight="normal" transform="translate(325.00 883.50) scale(1.0000 1)" fill="#000">0</text>
<line x1="341" y1="920.6700000000001" x2="345.2" y2="920.6700000000001" stroke="#868686" stroke-width="1" />
<text x="0" y="0" font-size="12.3" font-weight="normal" transform="translate(310.80 924.97) scale(1.0000 1)" fill="#000">-0.1</text>
<line x1="341" y1="962.1400000000001" x2="345.2" y2="962.1400000000001" stroke="#868686" stroke-width="1" />
<text x="0" y="0" font-size="12.3" font-weight="normal" transform="translate(310.86 966.44) scale(1.0000 1)" fill="#000">-0.2</text>
<line x1="341" y1="1003.61" x2="345.2" y2="1003.61" stroke="#868686" stroke-width="1" />
<text x="0" y="0" font-size="12.3" font-weight="normal" transform="translate(310.74 1007.91) scale(1.0000 1)" fill="#000">-0.3</text>
<line x1="341" y1="1045.08" x2="345.2" y2="1045.08" stroke="#868686" stroke-width="1" />
<text x="0" y="0" font-size="12.3" font-weight="normal" transform="translate(310.61 1049.38) scale(1.0000 1)" fill="#000">-0.4</text>
<line x1="345.2" y1="879.1" x2="626" y2="879.1" stroke="#868686" stroke-width="1" />
<line x1="415.5" y1="879.1" x2="415.5" y2="884" stroke="#868686" stroke-width="1" />
<line x1="485.8" y1="879.1" x2="485.8" y2="884" stroke="#868686" stroke-width="1" />
<line x1="555.9" y1="879.1" x2="555.9" y2="884" stroke="#868686" stroke-width="1" />
<rect x="362.8" y="879.1" width="15.099999999999966" height="98.29999999999995" fill="#d9d9d9" stroke="#8c8c8c" stroke-width="1" />
<rect x="382.4" y="838.6" width="15.800000000000011" height="40.5" fill="#7f7f7f" stroke="#727272" stroke-width="1" />
<rect x="432.9" y="879.1" width="15.400000000000034" height="120.60000000000002" fill="#d9d9d9" stroke="#8c8c8c" stroke-width="1" />
<rect x="452.9" y="844.6" width="15.300000000000011" height="34.5" fill="#7f7f7f" stroke="#727272" stroke-width="1" />
<rect x="503.1" y="876.2" width="15.199999999999932" height="2.8999999999999773" fill="#d9d9d9" stroke="#8c8c8c" stroke-width="1" />
<rect x="522.7" y="822.8" width="15.899999999999977" height="56.30000000000007" fill="#7f7f7f" stroke="#727272" stroke-width="1" />
<rect x="572.9" y="879.1" width="15.200000000000045" height="127.89999999999998" fill="#d9d9d9" stroke="#8c8c8c" stroke-width="1" />
<rect x="593.1" y="879.1" width="15.199999999999932" height="112.10000000000002" fill="#7f7f7f" stroke="#727272" stroke-width="1" />
<line x1="370.3" y1="953.1" x2="370.3" y2="1002.6" stroke="#555" stroke-width="1" />
<line x1="366.8" y1="953.1" x2="373.8" y2="953.1" stroke="#555" stroke-width="1" />
<line x1="366.8" y1="1002.6" x2="373.8" y2="1002.6" stroke="#555" stroke-width="1" />
<line x1="390.4" y1="826.2" x2="390.4" y2="850.4" stroke="#555" stroke-width="1" />
<line x1="386.9" y1="826.2" x2="393.9" y2="826.2" stroke="#555" stroke-width="1" />
<line x1="386.9" y1="850.4" x2="393.9" y2="850.4" stroke="#555" stroke-width="1" />
<line x1="440.5" y1="977.8" x2="440.5" y2="1021.5" stroke="#555" stroke-width="1" />
<line x1="437.0" y1="977.8" x2="444.0" y2="977.8" stroke="#555" stroke-width="1" />
<line x1="437.0" y1="1021.5" x2="444.0" y2="1021.5" stroke="#555" stroke-width="1" />
<line x1="460.2" y1="842.1" x2="460.2" y2="847" stroke="#555" stroke-width="1" />
<line x1="456.7" y1="842.1" x2="463.7" y2="842.1" stroke="#555" stroke-width="1" />
<line x1="456.7" y1="847" x2="463.7" y2="847" stroke="#555" stroke-width="1" />
<line x1="510.5" y1="862.2" x2="510.5" y2="888.6" stroke="#555" stroke-width="1" />
<line x1="507.0" y1="862.2" x2="514.0" y2="862.2" stroke="#555" stroke-width="1" />
<line x1="507.0" y1="888.6" x2="514.0" y2="888.6" stroke="#555" stroke-width="1" />
<line x1="530.7" y1="819.4" x2="530.7" y2="825.7" stroke="#555" stroke-width="1" />
<line x1="527.2" y1="819.4" x2="534.2" y2="819.4" stroke="#555" stroke-width="1" />
<line x1="527.2" y1="825.7" x2="534.2" y2="825.7" stroke="#555" stroke-width="1" />
<line x1="580.6" y1="1002.5" x2="580.6" y2="1011.4" stroke="#555" stroke-width="1" />
<line x1="577.1" y1="1002.5" x2="584.1" y2="1002.5" stroke="#555" stroke-width="1" />
<line x1="577.1" y1="1011.4" x2="584.1" y2="1011.4" stroke="#555" stroke-width="1" />
<line x1="600.6" y1="960.7" x2="600.6" y2="1022.3" stroke="#555" stroke-width="1" />
<line x1="597.1" y1="960.7" x2="604.1" y2="960.7" stroke="#555" stroke-width="1" />
<line x1="597.1" y1="1022.3" x2="604.1" y2="1022.3" stroke="#555" stroke-width="1" />
<path d="M369.4 823.4L369.4 816.3L389.8 816.3L389.8 823.4" fill="none" stroke="#9a9a9a" stroke-width="1"/>
<path d="M378.78 802.60L377.63 813.60M382.87 802.60L381.73 813.60M376.30 806.10L384.30 806.10M376.10 810.20L383.90 810.20" stroke="#000" stroke-width="1.3" fill="none"/>
<path d="M440.3 836L440.3 829.3L460.6 829.3L460.6 836" fill="none" stroke="#9a9a9a" stroke-width="1"/>
<path d="M449.98 814.70L448.83 825.70M454.07 814.70L452.93 825.70M447.50 818.20L455.50 818.20M447.30 822.30L455.10 822.30" stroke="#000" stroke-width="1.3" fill="none"/>
<path d="M509.9 815.8L509.9 809.3L530.6 809.3L530.6 815.8" fill="none" stroke="#9a9a9a" stroke-width="1"/>
<path d="M519.48 795.80L518.33 806.80M523.57 795.80L522.43 806.80M517.00 799.30L525.00 799.30M516.80 803.40L524.60 803.40" stroke="#000" stroke-width="1.3" fill="none"/>
<text x="0" y="0" font-size="13.584999999999999" font-weight="normal" transform="translate(356.73 904.30) scale(0.9954 1)" fill="#000" >T9176G</text>
<text x="0" y="0" font-size="13.584999999999999" font-weight="normal" transform="translate(362.20 922.60) scale(1.0158 1)" fill="#000" >A6MT</text>
<text x="0" y="0" font-size="13.584999999999999" font-weight="normal" transform="translate(426.60 904.30) scale(1.0167 1)" fill="#000" >ND1MT</text>
<text x="0" y="0" font-size="13.584999999999999" font-weight="normal" transform="translate(505.89 904.30) scale(0.8929 1)" fill="#000" >COXI</text>
<text x="0" y="0" font-size="13.584999999999999" font-weight="normal" transform="translate(497.05 922.60) scale(1.0047 1)" fill="#000" >50%MT</text>
<text x="0" y="0" font-size="13.584999999999999" font-weight="normal" transform="translate(575.70 904.30) scale(0.8897 1)" fill="#000" >COXI</text>
<text x="0" y="0" font-size="13.584999999999999" font-weight="normal" transform="translate(563.68 922.60) scale(1.0047 1)" fill="#000" >100%MT</text>
<rect x="375.6" y="1029.8" width="7.6" height="7.9" fill="#d9d9d9" stroke="#8c8c8c" stroke-width="1" />
<text x="0" y="0" font-size="13.584999999999999" font-weight="normal" transform="translate(387.84 1037.60) scale(1.0241 1)" fill="#000" >gal-DMEM</text>
<rect x="479.5" y="1029.7" width="7.8" height="7.8" fill="#7f7f7f" stroke="#727272" stroke-width="1" />
<text x="0" y="0" font-size="13.584999999999999" font-weight="normal" transform="translate(491.68 1037.60) scale(1.0406 1)" fill="#000" >suppl. gal-DMEM</text>
</svg>
</body></html>
